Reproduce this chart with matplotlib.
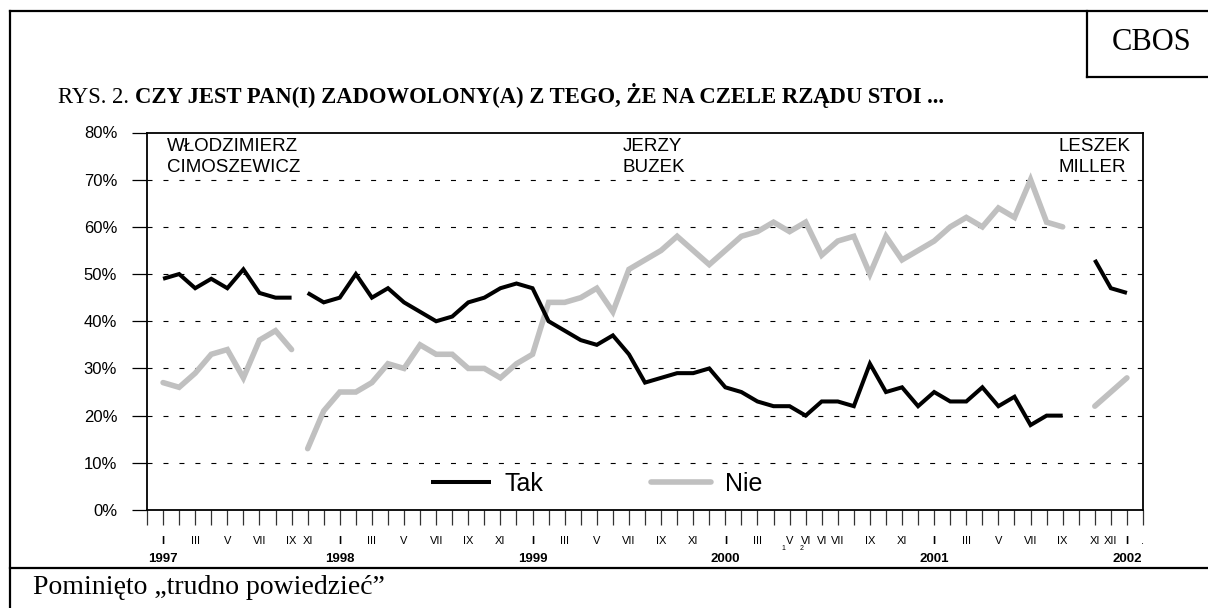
import matplotlib
matplotlib.use("Agg")
import matplotlib.pyplot as plt
from matplotlib.lines import Line2D

plt.rcParams['lines.scale_dashes'] = False

# ---------------- data ----------------
tick_labels = ["",
    "I", "", "III", "", "V", "", "VII", "", "IX", "XI", "",
    "I", "", "III", "", "V", "", "VII", "", "IX", "", "XI", "",
    "I", "", "III", "", "V", "", "VII", "", "IX", "", "XI", "",
    "I", "", "III", "", "V", "VI", "VI", "VII", "", "IX", "", "XI", "",
    "I", "", "III", "", "V", "", "VII", "", "IX", "", "XI", "XII",
    "I", "."]
years = ["1997", "1998", "1999", "2000", "2001", "2002"]
year_pos = [1, 12, 24, 36, 49, 61]
sub_labels = ["1", "2"]
sub_pos = [40, 41]

tak = [49, 50, 47, 49, 47, 51, 46, 45, 45, 46, 44,
       45, 50, 45, 47, 44, 42, 40, 41, 44, 45, 47, 48,
       47, 40, 38, 36, 35, 37, 33, 27, 28, 29, 29, 30,
       26, 25, 23, 22, 22, 20, 23, 23, 22, 31, 25, 26, 22,
       25, 23, 23, 26, 22, 24, 18, 20, 20, None, 53, 47,
       46]
nie = [27, 26, 29, 33, 34, 28, 36, 38, 34, 13, 21,
       25, 25, 27, 31, 30, 35, 33, 33, 30, 30, 28, 31,
       33, 44, 44, 45, 47, 42, 51, 53, 55, 58, 55, 52,
       55, 58, 59, 61, 59, 61, 54, 57, 58, 50, 58, 53, 55,
       57, 60, 62, 60, 64, 62, 70, 61, 60, None, 22, 25,
       28]
cabinet = ["Cimoszewicz"] * 9 + ["Buzek"] * 48 + [None] + ["Miller"] * 3
cabinet_names = ["WŁODZIMIERZ\nCIMOSZEWICZ", "JERZY\nBUZEK", "LESZEK\nMILLER"]
cabinet_keys = ["Cimoszewicz", "Buzek", "Miller"]

# ---------------- figure ----------------
W, H = 1208, 608
fig = plt.figure(figsize=(W / 100, H / 100), dpi=100)


def fx(x):
    return x / W


def fy(y):
    return 1 - y / H


SANS = "Liberation Sans"
SERIF = "Liberation Serif"

ax = fig.add_axes([fx(147), fy(510), fx(1143) - fx(147), fy(132.5) - fy(510)])
ax.set_xlim(0, len(tick_labels) - 1)
ax.set_ylim(0, 80)

x_all = list(range(1, len(tak) + 1))
for key in cabinet_keys:
    idx = [i for i, c in enumerate(cabinet) if c == key]
    xs = [x_all[i] for i in idx]
    ax.plot(xs, [nie[i] for i in idx], color="#c0c0c0", lw=4.0,
            solid_capstyle="round", solid_joinstyle="miter", zorder=3,
            label="Nie" if key == "Buzek" else None)
    ax.plot(xs, [tak[i] for i in idx], color="black", lw=2.9,
            solid_capstyle="butt", solid_joinstyle="miter", zorder=4,
            label="Tak" if key == "Buzek" else None)

# grid
ax.set_yticks(range(0, 81, 10))
ax.set_yticklabels([f"{v}%" for v in range(0, 81, 10)], fontsize=12, family=SANS)
for v in range(10, 80, 10):
    ax.axhline(v, color="black", lw=0.8, ls=(0, (3.6, 7.9)), zorder=1)

ax.set_xticks(range(len(tick_labels)))
ax.set_xticklabels(tick_labels, fontsize=8, family=SANS)
for t in ax.get_xticklabels():
    if t.get_text() == "I":
        t.set_fontweight("bold")
ax.tick_params(axis="x", length=11, width=0.9, pad=7.5, color="#333333")
ax.tick_params(axis="y", length=10.5, width=0.9, pad=11)

for s in ["left", "right", "top", "bottom"]:
    ax.spines[s].set_linewidth(1.3)
    ax.spines[s].set_color("black")

for yr, p in zip(years, year_pos):
    ax.annotate(yr, xy=(p, 0), xycoords=("data", "axes fraction"),
                xytext=(0, -35.5), textcoords="offset points",
                ha="center", va="center", fontsize=9.5, fontweight="bold",
                family=SANS)
for s, p, dx in zip(sub_labels, sub_pos, [-4.5, -3]):
    ax.annotate(s, xy=(p, 0), xycoords=("data", "axes fraction"),
                xytext=(dx, -27.5), textcoords="offset points",
                ha="center", va="center", fontsize=5, family=SANS)

# cabinet labels
for name, xpos in zip(cabinet_names, [1.25, 29.6, 56.75]):
    ax.text(xpos, 78.9, name, ha="left", va="top", fontsize=13.5,
            family=SANS, linespacing=1.3, zorder=5)

# legend
leg = ax.legend(handles=[ax.lines[1], ax.lines[0]], labels=["Tak", "Nie"],
                ncol=2, loc="center left", bbox_to_anchor=(0.285, 0.069),
                frameon=False, borderpad=0, borderaxespad=0,
                handlelength=2.4, handletextpad=0.55, columnspacing=4.3,
                prop={"family": SANS, "size": 18})

# ---------------- page decorations ----------------
lw_frame = 1.6
fig.add_artist(Line2D([fx(10), fx(10)], [fy(11), fy(608)], color="black", lw=lw_frame))
fig.add_artist(Line2D([fx(10), fx(1208)], [fy(11), fy(11)], color="black", lw=lw_frame))
fig.add_artist(Line2D([fx(10), fx(1208)], [fy(568), fy(568)], color="black", lw=lw_frame))
fig.add_artist(Line2D([fx(1087), fx(1087)], [fy(11), fy(77)], color="black", lw=lw_frame))
fig.add_artist(Line2D([fx(1087), fx(1208)], [fy(77), fy(77)], color="black", lw=lw_frame))

fig.text(fx(1152), fy(43), "CBOS", ha="center", va="center", fontsize=22, family=SERIF)

t1 = fig.text(fx(58), fy(103), "RYS. 2. ", ha="left", va="baseline", fontsize=16.3, family=SERIF)
fig.canvas.draw()
bb = t1.get_window_extent()
fig.text(bb.x1 / W, fy(103), "CZY JEST PAN(I) ZADOWOLONY(A) Z TEGO, ŻE NA CZELE RZĄDU STOI ...",
         ha="left", va="baseline", fontsize=16.3, family=SERIF, fontweight="bold")

fig.text(fx(33), fy(594), "Pominięto „trudno powiedzieć”", ha="left", va="baseline",
         fontsize=20, family=SERIF)

fig.savefig("out.png", dpi=100)
